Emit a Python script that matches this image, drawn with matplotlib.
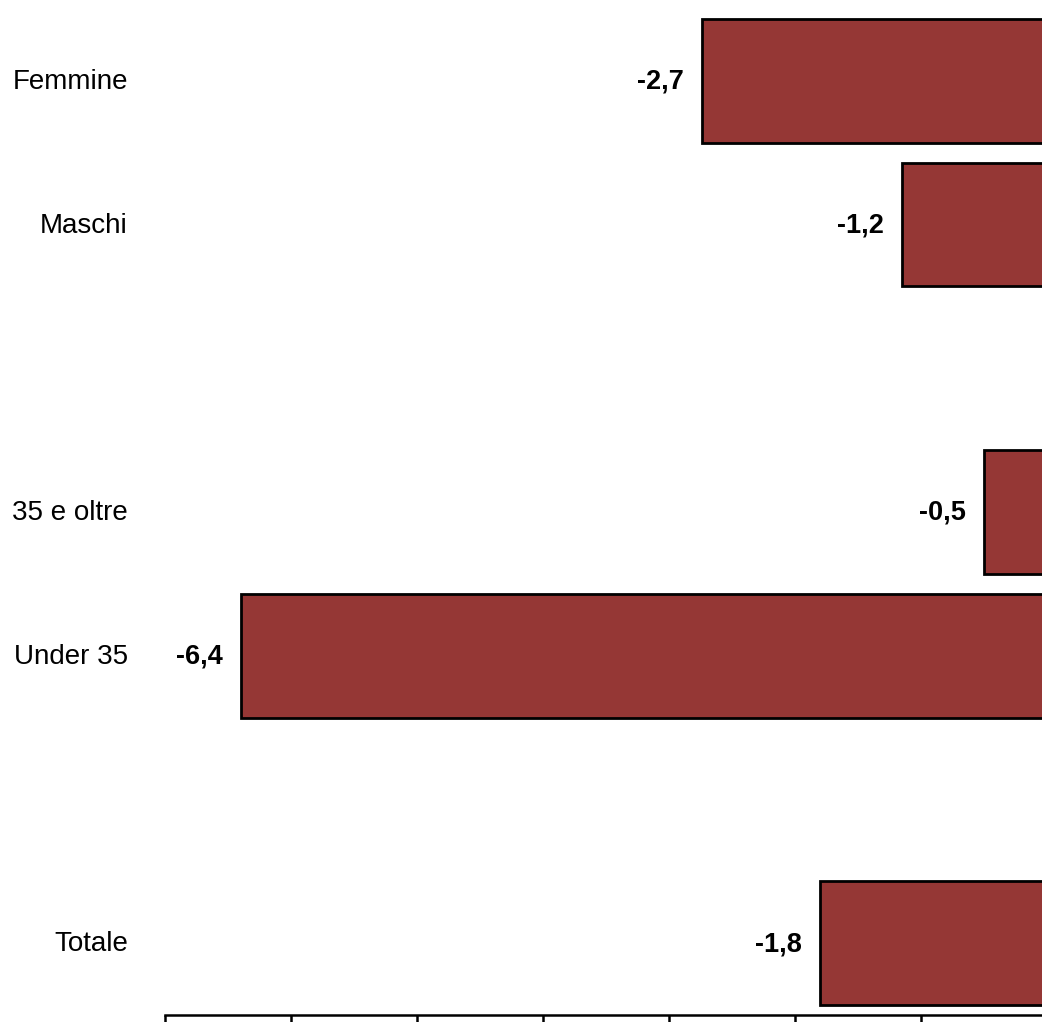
import matplotlib
matplotlib.use("Agg")
import matplotlib.pyplot as plt
from matplotlib import font_manager

categories = ["Femmine", "Maschi", "", "35 e oltre", "Under 35", "", "Totale"]
values = [-2.74, -1.15, None, -0.5, -6.4, None, -1.8]
labels = ["-2,7", "-1,2", "", "-0,5", "-6,4", "", "-1,8"]

names = {f.name for f in font_manager.fontManager.ttflist}
fam = ["Liberation Sans Narrow", "DejaVu Sans"] if "Liberation Sans Narrow" in names else ["Liberation Sans", "DejaVu Sans"]
plt.rcParams['font.family'] = fam

W, H = 1042, 1022
fig = plt.figure(figsize=(W / 100, H / 100), dpi=100)
ax = fig.add_axes([165 / W, 7 / H, 882 / W, 1006 / H])

ypos = list(range(len(categories)))
for y, v, lab in zip(ypos, values, labels):
    if v is None:
        continue
    ax.barh(y, v, height=0.86, color="#953735", edgecolor="black", linewidth=2)
    ax.annotate(lab, xy=(v, y), xytext=(-18, -1), textcoords="offset pixels",
                ha="right", va="center", fontsize=19.5, fontweight="bold")

ax.set_ylim(len(categories) - 0.5, -0.5)
ax.set_xlim(-7, 0)
ax.set_yticks([])
ax.set_xticks(range(-7, 1))
ax.tick_params(axis="x", direction="out", length=7, width=1.8, labelbottom=False)
for s in ["top", "right", "left"]:
    ax.spines[s].set_visible(False)
ax.spines["bottom"].set_linewidth(1.8)

for y, c in zip(ypos, categories):
    if c:
        fig.text(128 / W, 1 - (10 + (y + 0.5) * 1006 / 7) / H, c, ha="right", va="center", fontsize=20)

fig.savefig("out.png", dpi=100)
